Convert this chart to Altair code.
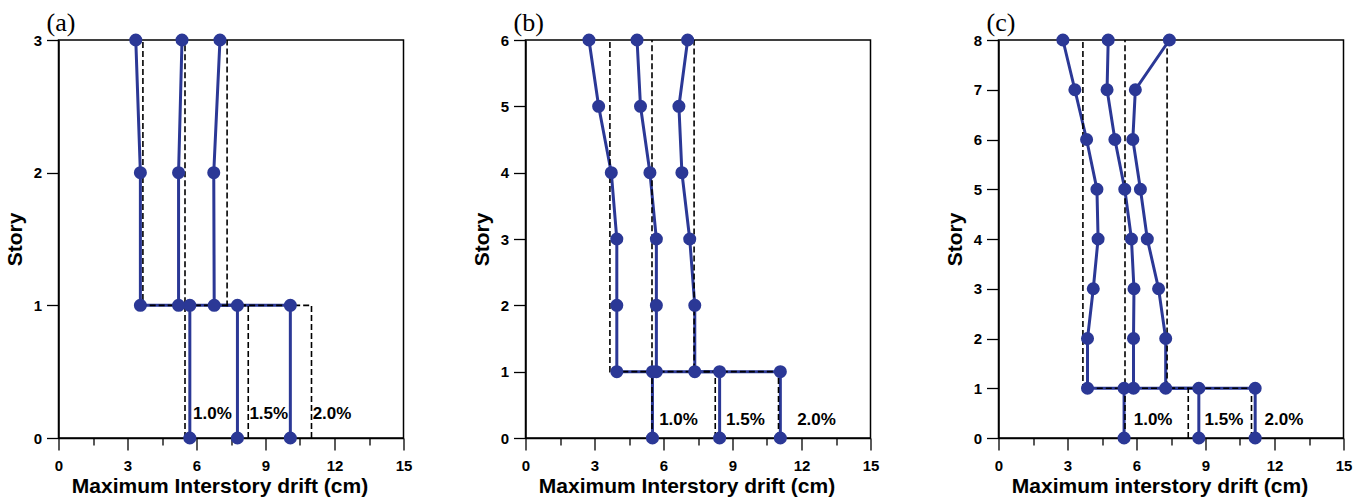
import altair as alt
import pandas as pd

BLUE = "#2B3896"
SERIES = ["1.0%", "1.5%", "2.0%"]
X_TICKS = [0, 1.5, 3, 4.5, 6, 7.5, 9, 10.5, 12, 13.5, 15]

# Panel (a): 3-story
A_STORY = [0, 1, 1, 2, 3]
A_10 = [5.71, 5.71, 3.56, 3.56, 3.36]
A_15 = [7.78, 7.78, 5.22, 5.22, 5.37]
A_20 = [10.08, 10.08, 6.77, 6.75, 7.02]

# Panel (b): 6-story
B_STORY = [0, 1, 1, 2, 3, 4, 5, 6]
B_10 = [5.52, 5.52, 3.97, 3.97, 3.97, 3.73, 3.18, 2.76]
B_15 = [8.44, 8.44, 5.69, 5.69, 5.69, 5.41, 5.00, 4.85]
B_20 = [11.08, 11.08, 7.36, 7.36, 7.14, 6.80, 6.67, 7.05]

# Panel (c): 8-story
C_STORY = [0, 1, 1, 2, 3, 4, 5, 6, 7, 8]
C_10 = [5.46, 5.46, 3.87, 3.87, 4.12, 4.33, 4.28, 3.83, 3.32, 2.80]
C_15 = [8.71, 8.71, 5.87, 5.87, 5.89, 5.78, 5.49, 5.06, 4.72, 4.77]
C_20 = [11.16, 11.16, 7.27, 7.27, 6.96, 6.47, 6.17, 5.84, 5.95, 7.43]

# Design drift limits (dashed): first story then upper stories
LIMIT_10 = [5.5, 5.5, 3.67, 3.67]
LIMIT_15 = [8.25, 8.25, 5.5, 5.5]
LIMIT_20 = [11.0, 11.0, 7.33, 7.33]

LABEL_X_A = [5.85, 8.3, 11.05]
LABEL_X_B = [5.81, 8.72, 11.81]
LABEL_X_C = [5.88, 8.96, 11.57]
LABEL_Y = {"a": 0.18, "b": 0.27, "c": 0.36}

W, H = 345, 398
SANS = "Liberation Sans"


def panel(letter, story, s10, s15, s20, top, label_x, xtitle):
    rows = []
    for name, vals in zip(SERIES, [s10, s15, s20]):
        for i, (st, v) in enumerate(zip(story, vals)):
            rows.append({"series": name, "idx": i, "drift": v, "story": st})
    df = pd.DataFrame(rows)

    lim_story = [0, 1, 1, top]
    lrows = []
    for name, vals in zip(SERIES, [LIMIT_10, LIMIT_15, LIMIT_20]):
        for i, (st, v) in enumerate(zip(lim_story, vals)):
            lrows.append({"series": name, "idx": i, "drift": v, "story": st})
    ldf = pd.DataFrame(lrows)

    tdf = pd.DataFrame({"drift": label_x, "story": [LABEL_Y[letter]] * 3, "txt": SERIES})

    xscale = alt.Scale(domain=[0, 15], nice=False, zero=False)
    yscale = alt.Scale(domain=[0, top], nice=False, zero=False)
    xaxis = alt.Axis(
        values=X_TICKS,
        labelExpr="datum.value % 3 == 0 ? datum.label : ''",
        tickSize={"condition": {"test": "datum.value % 3 == 0", "value": 12}, "value": 7},
        labelPadding=8,
        title=xtitle,
        titlePadding=2,
        titleX=161,
    )
    yaxis = alt.Axis(
        values=list(range(0, top + 1)),
        format="d",
        tickSize=12,
        labelPadding=5,
        title="Story",
        titlePadding=8,
    )
    x = alt.X("drift:Q", scale=xscale, axis=xaxis)
    y = alt.Y("story:Q", scale=yscale, axis=yaxis)

    lines = alt.Chart(df).mark_line(color=BLUE, strokeWidth=3).encode(
        x=x, y=y, detail="series:N", order="idx:Q"
    )
    dashed = alt.Chart(ldf).mark_line(color="black", strokeWidth=1.6, strokeDash=[6, 3]).encode(
        x=x, y=y, detail="series:N", order="idx:Q"
    )
    dots = alt.Chart(df).mark_circle(color=BLUE, size=170, opacity=1).encode(x=x, y=y)
    texts = alt.Chart(tdf).mark_text(
        font=SANS, fontWeight="bold", fontSize=17, align="left", baseline="middle", color="black"
    ).encode(x=x, y=y, text="txt:N")
    plabel = alt.Chart(pd.DataFrame({"t": [f"({letter})"]})).mark_text(
        font="Liberation Serif", fontSize=26, align="left", baseline="alphabetic", color="black"
    ).encode(x=alt.value(-12), y=alt.value(-9), text="t:N")

    return alt.layer(lines, dashed, dots, texts, plabel).properties(width=W, height=H)


pa = panel("a", A_STORY, A_10, A_15, A_20, 3, LABEL_X_A, "Maximum Interstory drift (cm)")
pb = panel("b", B_STORY, B_10, B_15, B_20, 6, LABEL_X_B, "Maximum Interstory drift (cm)")
pc = panel("c", C_STORY, C_10, C_15, C_20, 8, LABEL_X_C, "Maximum interstory drift (cm)")

chart = (
    alt.hconcat(alt.hconcat(pa, pb, spacing=56), pc, spacing=62)
    .properties(padding={"left": 2.5, "top": 9, "right": 0, "bottom": 0})
    .configure(background="white")
    .configure_view(stroke="black", strokeWidth=1.5)
    .configure_axis(
        grid=False,
        domainColor="black",
        domainWidth=1.5,
        tickColor="black",
        tickWidth=1.3,
        labelFont=SANS,
        labelFontWeight="bold",
        labelFontSize=15,
        labelColor="black",
        labelOverlap=False,
        labelFlush=False,
        titleFont=SANS,
        titleFontWeight="bold",
        titleFontSize=21,
        titleColor="black",
    )
)

chart.save("out.html", embed_options={"renderer": "svg", "actions": False})
